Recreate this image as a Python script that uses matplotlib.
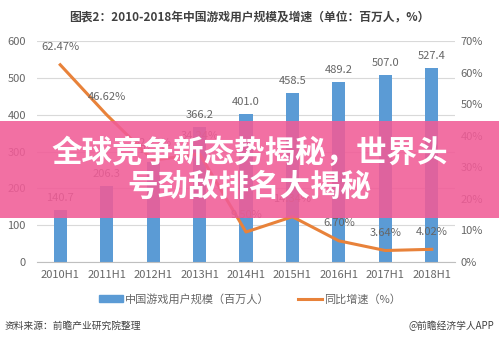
import matplotlib
matplotlib.use('Agg')
import matplotlib.pyplot as plt
from matplotlib.patches import Rectangle, Patch
from matplotlib.lines import Line2D

plt.rcParams['font.family'] = ['Noto Sans CJK SC', 'DejaVu Sans']

# data
years = ['2010H1', '2011H1', '2012H1', '2013H1', '2014H1',
         '2015H1', '2016H1', '2017H1', '2018H1']
users = [140.7, 206.3, 272.8, 366.2, 401.0, 458.5, 489.2, 507.0, 527.4]
growth = [62.47, 46.62, 32.23, 34.24, 9.50, 14.34, 6.70, 3.64, 4.02]
left_ticks = [0, 100, 200, 300, 400, 500, 600]
right_ticks = [0, 10, 20, 30, 40, 50, 60, 70]

blue = '#5B9BD5'
orange = '#E8823A'
grey = '#666666'

W, H = 499, 340
fig = plt.figure(figsize=(W / 100, H / 100), dpi=100)

ax = fig.add_axes([37 / W, (H - 262) / H, (455 - 37) / W, (262 - 41) / H])
ax2 = ax.twinx()

x = list(range(len(years)))
ax.bar(x, users, width=0.28, color=blue, zorder=2)
for xi, v in zip(x, users):
    ax.annotate('%.1f' % v, (xi, v), xytext=(0, 5), textcoords='offset points',
                ha='center', va='bottom', fontsize=8, color=grey)

ax2.plot(x, growth, color=orange, lw=2.2, zorder=3)
for xi, g in zip(x, growth):
    ax2.annotate('%.2f%%' % g, (xi, g), xytext=(0, 9), textcoords='offset points',
                 ha='center', va='bottom', fontsize=8, color=grey)

ax.set_xlim(-0.5, len(years) - 0.5)
ax.set_ylim(0, 600)
ax2.set_ylim(0, 70)
ax.set_yticks(left_ticks)
ax2.set_yticks(right_ticks)
ax2.set_yticklabels(['%d%%' % t for t in right_ticks])
ax.set_xticks(x)
ax.set_xticklabels(years)

ax.grid(axis='y', color='#D9D9D9', lw=0.8, zorder=0)
ax.set_axisbelow(True)
for a in (ax, ax2):
    for s in a.spines.values():
        s.set_visible(False)
    a.tick_params(length=0, labelsize=8, labelcolor=grey)
ax.spines['bottom'].set_visible(True)
ax.spines['bottom'].set_color('#BFBFBF')
ax.tick_params(axis='y', pad=8)
ax2.tick_params(axis='y', pad=4)
ax.tick_params(axis='x', pad=6)

fig.text(0.5, (H - 17) / H, '图表2：2010-2018年中国游戏用户规模及增速（单位：百万人，%）',
         ha='center', va='center', fontsize=8.5, fontweight='bold', color='#404040')

handles = [Patch(color=blue), Line2D([0], [0], color=orange, lw=2.2)]
fig.legend(handles, ['中国游戏用户规模（百万人）', '同比增速（%）'],
           loc='center', bbox_to_anchor=(250 / W, (H - 299) / H), ncol=2,
           frameon=False, fontsize=8, labelcolor=grey, handlelength=2.2,
           columnspacing=2.5, handletextpad=0.2)

fig.text(5 / W, (H - 326) / H, '资料来源：前瞻产业研究院整理', ha='left', va='center',
         fontsize=7, color='#404040', style='italic')
fig.text(494 / W, (H - 326) / H, '@前瞻经济学人APP', ha='right', va='center',
         fontsize=7, color='#404040')

# pink banner over the chart
fig.patches.append(Rectangle((0, (H - 218) / H), 1, 97 / H, transform=fig.transFigure,
                             facecolor='#F15C97', alpha=0.88, zorder=10))
fig.text(0.5, (H - 153) / H, '全球竞争新态势揭秘，世界头', ha='center', va='center',
         fontsize=22, fontweight='bold', color='white', zorder=11)
fig.text(0.5, (H - 187) / H, '号劲敌排名大揭秘', ha='center', va='center',
         fontsize=22, fontweight='bold', color='white', zorder=11)

fig.savefig('out.png', dpi=100)
